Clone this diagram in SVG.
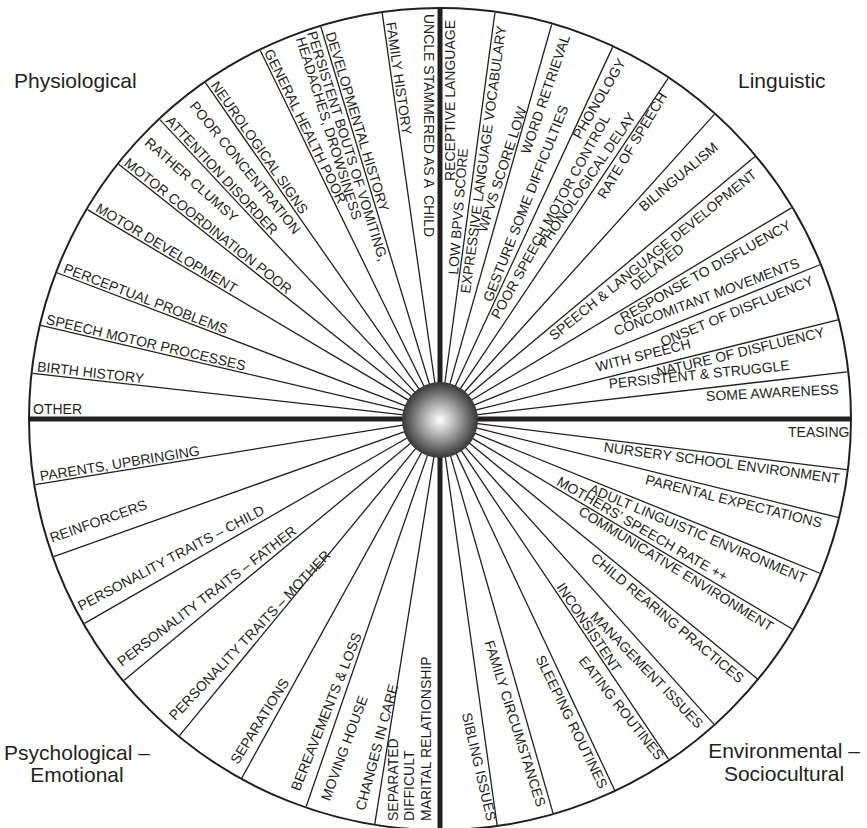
<svg xmlns="http://www.w3.org/2000/svg" width="867" height="828" viewBox="0 0 867 828">
<style>
text{font-family:"Liberation Sans",Arial,sans-serif;font-size:14px;fill:#231f20}
.q{font-size:21px}
.sp{fill:none;stroke:#231f20;stroke-width:1.3}
.thick{stroke:#231f20;stroke-width:5}
</style>
<defs>
<radialGradient id="ball" cx="50%" cy="50%" r="50%">
<stop offset="0" stop-color="#ffffff"/>
<stop offset="0.45" stop-color="#a8a8a8"/>
<stop offset="1" stop-color="#363636"/>
</radialGradient>
</defs>
<rect width="867" height="828" fill="#ffffff"/>
<circle cx="440" cy="419" r="411" fill="none" stroke="#231f20" stroke-width="2"/>
<g id="connectors">
<g class="sp" transform="translate(440 419)">
<line x1="30" y1="0" x2="410" y2="0" transform="rotate(186.4)"/>
<line x1="30" y1="0" x2="410" y2="0" transform="rotate(193.2)"/>
<line x1="30" y1="0" x2="410" y2="0" transform="rotate(200.9)"/>
<line x1="30" y1="0" x2="410" y2="0" transform="rotate(210.7)"/>
<line x1="30" y1="0" x2="410" y2="0" transform="rotate(218.4)"/>
<line x1="30" y1="0" x2="410" y2="0" transform="rotate(226.9)"/>
<line x1="30" y1="0" x2="410" y2="0" transform="rotate(235.1)"/>
<line x1="30" y1="0" x2="410" y2="0" transform="rotate(244)"/>
<line x1="30" y1="0" x2="410" y2="0" transform="rotate(253.1)"/>
<line x1="30" y1="0" x2="410" y2="0" transform="rotate(261.9)"/>
<line x1="30" y1="0" x2="410" y2="0" transform="rotate(277.7)"/>
<line x1="30" y1="0" x2="410" y2="0" transform="rotate(285.8)"/>
<line x1="30" y1="0" x2="410" y2="0" transform="rotate(294.9)"/>
<line x1="30" y1="0" x2="410" y2="0" transform="rotate(303.8)"/>
<line x1="30" y1="0" x2="410" y2="0" transform="rotate(312)"/>
<line x1="30" y1="0" x2="410" y2="0" transform="rotate(320.2)"/>
<line x1="30" y1="0" x2="410" y2="0" transform="rotate(329)"/>
<line x1="30" y1="0" x2="410" y2="0" transform="rotate(337.9)"/>
<line x1="30" y1="0" x2="410" y2="0" transform="rotate(346)"/>
<line x1="30" y1="0" x2="410" y2="0" transform="rotate(353.4)"/>
<line x1="30" y1="0" x2="410" y2="0" transform="rotate(7.1)"/>
<line x1="30" y1="0" x2="410" y2="0" transform="rotate(13.9)"/>
<line x1="30" y1="0" x2="410" y2="0" transform="rotate(22.1)"/>
<line x1="30" y1="0" x2="410" y2="0" transform="rotate(30.8)"/>
<line x1="30" y1="0" x2="410" y2="0" transform="rotate(39.3)"/>
<line x1="30" y1="0" x2="410" y2="0" transform="rotate(48.1)"/>
<line x1="30" y1="0" x2="410" y2="0" transform="rotate(56.1)"/>
<line x1="30" y1="0" x2="410" y2="0" transform="rotate(64.8)"/>
<line x1="30" y1="0" x2="410" y2="0" transform="rotate(74)"/>
<line x1="30" y1="0" x2="410" y2="0" transform="rotate(82)"/>
<line x1="30" y1="0" x2="410" y2="0" transform="rotate(99.15)"/>
<line x1="30" y1="0" x2="410" y2="0" transform="rotate(109.05)"/>
<line x1="30" y1="0" x2="410" y2="0" transform="rotate(118.9)"/>
<line x1="30" y1="0" x2="410" y2="0" transform="rotate(129.45)"/>
<line x1="30" y1="0" x2="410" y2="0" transform="rotate(140.4)"/>
<line x1="30" y1="0" x2="410" y2="0" transform="rotate(150.1)"/>
<line x1="30" y1="0" x2="410" y2="0" transform="rotate(160.4)"/>
<line x1="30" y1="0" x2="410" y2="0" transform="rotate(170.8)"/>
</g>
<line class="thick" x1="29" y1="419" x2="851" y2="419"/>
<line class="thick" x1="440" y1="8" x2="440" y2="828"/>
</g>
<g id="hub"><circle cx="440" cy="420" r="38" fill="url(#ball)"/></g>

<g id="physiological">
<text class="q" x="14" y="88">Physiological</text>
<g transform="translate(440 419)">
<text transform="rotate(90)" x="-405" y="16" style="white-space:pre">UNCLE STAMMERED AS A  CHILD</text>
<text transform="rotate(81.9)" x="-400" y="-2.5">FAMILY HISTORY</text>
<text transform="rotate(73.1)" x="-402" y="-2.5">DEVELOPMENTAL HISTORY</text>
<text transform="rotate(72.6)" x="-408" y="11.5">PERSISTENT BOUTS OF VOMITING,</text>
<text transform="rotate(72.6)" x="-406" y="24">HEADACHES, DROWSINESS</text>
<text transform="rotate(64)" x="-407" y="-2.5">GENERAL HEALTH POOR</text>
<text transform="rotate(55.1)" x="-405" y="-2.5">NEUROLOGICAL SIGNS</text>
<text transform="rotate(50.8)" x="-401" y="-3">POOR CONCENTRATION</text>
<text transform="rotate(46.9)" x="-405" y="-2.5">ATTENTION DISORDER</text>
<text transform="rotate(41.6)" x="-404" y="-9">RATHER CLUMSY</text>
<text transform="rotate(38.4)" x="-406" y="-2.5">MOTOR COORDINATION POOR</text>
<text transform="rotate(30.7)" x="-403" y="-2.5">MOTOR DEVELOPMENT</text>
<text transform="rotate(20.9)" x="-405" y="-2.5">PERCEPTUAL PROBLEMS</text>
<text transform="rotate(13.2)" x="-406" y="-2.5">SPEECH MOTOR PROCESSES</text>
<text transform="rotate(6.4)" x="-406" y="-2.5">BIRTH HISTORY</text>
<text x="-407" y="-5">OTHER</text>
</g>
</g>

<g id="linguistic">
<text class="q" x="738" y="88">Linguistic</text>
<g transform="translate(440 419)">
<text transform="rotate(-90)" x="238" y="15">RECEPTIVE LANGUAGE</text>
<text transform="rotate(-82.3)" x="128" y="13">EXPRESSIVE LANGUAGE VOCABULARY</text>
</g>
<text transform="translate(458 275) rotate(-85.5)">LOW BPVS SCORE</text>
<text transform="translate(486.5 233) rotate(-72)">WPVS SCORE LOW</text>
<text transform="translate(529.7 154.9) rotate(-71.1)">WORD RETRIEVAL</text>
<text transform="translate(491.7 302.8) rotate(-68.5)">GESTURE SOME DIFFICULTIES</text>
<text transform="translate(580.5 140) rotate(-59.6)">PHONOLOGY</text>
<text transform="translate(499.1 320) rotate(-61.1)">POOR SPEECH MOTOR CONTROL</text>
<text transform="translate(545.5 249) rotate(-55.5)">PHONOLOGICAL DELAY</text>
<text transform="translate(605 199.8) rotate(-58.9)">RATE OF SPEECH</text>
<text transform="translate(644 212.1) rotate(-40.1)">BILINGUALISM</text>
<text transform="translate(553.9 341.1) rotate(-39)">SPEECH &amp; LANGUAGE DEVELOPMENT</text>
<text transform="translate(635.2 290.9) rotate(-39)">DELAYED</text>
<text transform="translate(623.6 322.7) rotate(-29.3)">RESPONSE TO DISFLUENCY</text>
<text transform="translate(616 336) rotate(-20.5)">CONCOMITANT MOVEMENTS</text>
<text transform="translate(662.8 346.7) rotate(-22.4)">ONSET OF DISFLUENCY</text>
<text transform="translate(597.1 371.7) rotate(-14)">WITH SPEECH</text>
<text transform="translate(657.7 377) rotate(-13.6)">NATURE OF DISFLUENCY</text>
<text transform="translate(609.2 388.6) rotate(-5.9)">PERSISTENT &amp; STRUGGLE</text>
<text transform="translate(706.3 401) rotate(-3)">SOME AWARENESS</text>
</g>

<g id="environmental">
<text class="q" x="784" y="758" text-anchor="middle">Environmental –</text>
<text class="q" x="784" y="781" text-anchor="middle">Sociocultural</text>
<text x="788" y="437">TEASING</text>
<text transform="translate(603.3 451.7) rotate(7.66)">NURSERY SCHOOL ENVIRONMENT</text>
<text transform="translate(644.6 483.9) rotate(14)">PARENTAL EXPECTATIONS</text>
<text transform="translate(588 492.5) rotate(22.8)">ADULT LINGUISTIC ENVIRONMENT</text>
<text transform="translate(555.7 484.5) rotate(30)">MOTHERS’ SPEECH RATE ++</text>
<text transform="translate(577.4 514.1) rotate(31.5)">COMMUNICATIVE ENVIRONMENT</text>
<text transform="translate(590 559.8) rotate(39.8)">CHILD REARING PRACTICES</text>
<text transform="translate(589.6 617.3) rotate(46.1)">MANAGEMENT ISSUES</text>
<text transform="translate(555.9 586.9) rotate(56.1)">INCONSISTENT</text>
<text transform="translate(577.9 661.1) rotate(51.6)">EATING ROUTINES</text>
<text transform="translate(535.2 658.2) rotate(64)">SLEEPING ROUTINES</text>
<text transform="translate(484.3 642.3) rotate(72.4)">FAMILY CIRCUMSTANCES</text>
<text transform="translate(461.7 714.1) rotate(76.8)">SIBLING ISSUES</text>
</g>

<g id="psychological">
<text class="q" x="77" y="760" text-anchor="middle">Psychological –</text>
<text class="q" x="77" y="782" text-anchor="middle">Emotional</text>
<g transform="translate(440 419)">
<text transform="rotate(-9.2)" x="-404" y="-2.5">PARENTS, UPBRINGING</text>
<text transform="rotate(-19.6)" x="-407" y="-13.5">REINFORCERS</text>
</g>
<text transform="translate(81 611) rotate(-27.9)">PERSONALITY TRAITS – CHILD</text>
<text transform="translate(122 667) rotate(-37.4)">PERSONALITY TRAITS – FATHER</text>
<text transform="translate(175 721) rotate(-46.5)">PERSONALITY TRAITS – MOTHER</text>
<text transform="translate(238 765) rotate(-58)">SEPARATIONS</text>
<text transform="translate(299.6 791.8) rotate(-68.3)">BEREAVEMENTS &amp; LOSS</text>
<text transform="translate(329.7 801.7) rotate(-69.7)">MOVING HOUSE</text>
<text transform="translate(364.8 811.3) rotate(-75.1)">CHANGES IN CARE</text>
<text transform="translate(398 821) rotate(-90)">SEPARATED</text>
<text transform="translate(414 821) rotate(-90)">DIFFICULT</text>
<text transform="translate(431 821) rotate(-90)">MARITAL RELATIONSHIP</text>
</g>
</svg>
